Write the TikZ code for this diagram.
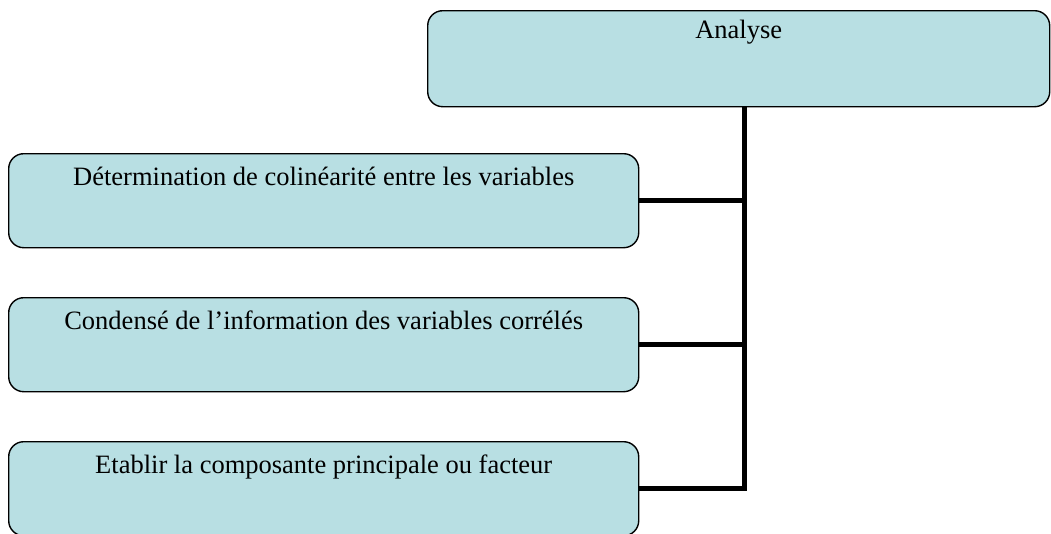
\documentclass[tikz,border=0pt]{standalone}
\usepackage{fontspec}
\setmainfont{Liberation Serif}
\usepackage{xcolor}
\definecolor{boxblue}{HTML}{B8DFE3}

\begin{document}
\begin{tikzpicture}[x=1pt,y=-1pt,
  etape/.style={draw=black, line width=1.4pt, fill=boxblue, rounded corners=15pt,
    anchor=north west, minimum width=630pt, inner xsep=0pt, inner ysep=10pt,
    text height=22pt, text depth=52pt, font=\fontsize{26.5}{30}\selectfont},
  lien/.style={line width=5pt}]
\clip (0,0) rectangle (1051,533);
\node[etape, minimum width=622pt, text height=18pt, text depth=58pt] (analyse) at (427,10) {Analyse};
\node[etape] (colin) at (8,153) {Détermination de colinéarité entre les variables};
\node[etape] (conde) at (8,297) {Condensé de l’information des variables corrélés};
\node[etape] (etab) at (8,441) {Etablir la composante principale ou facteur};
\coordinate (tronc) at ([xshift=6pt]analyse.south);
\draw[lien] (tronc) |- (etab.east);
\draw[lien] (colin.east) -- (colin.east -| tronc);
\draw[lien] (conde.east) -- (conde.east -| tronc);
\end{tikzpicture}
\end{document}
